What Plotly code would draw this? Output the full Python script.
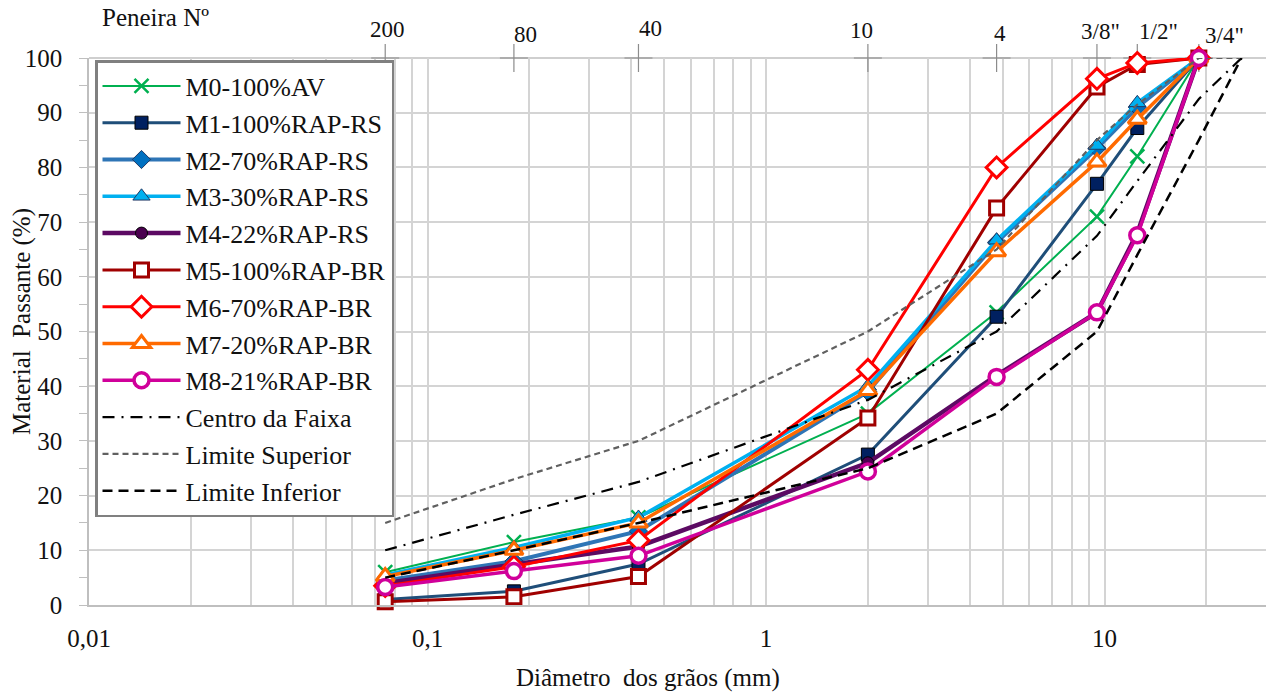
import math
import plotly.graph_objects as go

# ---------------- data ----------------
sieve_mm = [0.075, 0.18, 0.42, 2.0, 4.8, 9.5, 12.5, 19.0]
sieve_labels = ["200", "80", "40", "10", "4", '3/8"', '1/2"', '3/4"']
band_mm = [0.075, 0.18, 0.42, 2.0, 4.8, 9.5, 12.5, 19.0, 25.4]

m0 = [6.0, 11.5, 16.0, 35.0, 53.5, 71.0, 82.0, 100]
m1 = [1.0, 2.5, 7.5, 27.5, 52.7, 77.0, 87.2, 100]
m2 = [4.5, 8.0, 13.5, 39.0, 66.3, 83.5, 91.0, 100]
m3 = [5.5, 10.5, 16.0, 40.0, 66.7, 84.0, 91.8, 100]
m4 = [4.0, 7.5, 10.7, 26.0, 42.0, 53.5, 68.0, 100]
m5 = [0.6, 1.5, 5.2, 34.2, 72.6, 94.7, 98.8, 100]
m6 = [3.5, 7.0, 11.8, 43.0, 80.0, 96.2, 99.1, 100]
m7 = [5.2, 10.0, 15.0, 39.2, 64.6, 81.0, 88.8, 100]
m8 = [3.3, 6.2, 9.0, 24.4, 41.7, 53.5, 67.6, 100]

centro = [10, 16.5, 22.5, 37.5, 50, 67.5, 77.5, 92.5, 100]
superior = [15, 23, 30, 50, 65, 85, 91.5, 100, 100]
inferior = [5, 10, 15, 25, 35, 50, 64, 85, 100]

series_names = ["M0-100%AV", "M1-100%RAP-RS", "M2-70%RAP-RS", "M3-30%RAP-RS",
                "M4-22%RAP-RS", "M5-100%RAP-BR", "M6-70%RAP-BR", "M7-20%RAP-BR",
                "M8-21%RAP-BR"]
series_values = [m0, m1, m2, m3, m4, m5, m6, m7, m8]

x_ticks = [0.01, 0.1, 1, 10]
x_ticktext = ["0,01", "0,1", "1", "10"]

# ---------------- styles ----------------
styles = [
    dict(line=dict(color="#00B050", width=2),
         marker=dict(symbol="x-thin", size=14, line=dict(color="#00B050", width=2.5))),
    dict(line=dict(color="#1F4E79", width=3),
         marker=dict(symbol="square", size=13, color="#002060", line=dict(color="#000000", width=1))),
    dict(line=dict(color="#2E75B6", width=4),
         marker=dict(symbol="diamond", size=14, color="#0070C0", line=dict(color="#1F3864", width=1))),
    dict(line=dict(color="#00B0F0", width=3.5),
         marker=dict(symbol="triangle-up", size=15, color="#00B0F0", line=dict(color="#1F3864", width=1))),
    dict(line=dict(color="#5C0A63", width=4.5),
         marker=dict(symbol="circle", size=12, color="#4B0050", line=dict(color="#000000", width=1))),
    dict(line=dict(color="#A00000", width=3),
         marker=dict(symbol="square", size=14, color="white", line=dict(color="#A00000", width=3))),
    dict(line=dict(color="#FF0000", width=3),
         marker=dict(symbol="diamond", size=16, color="white", line=dict(color="#FF0000", width=3))),
    dict(line=dict(color="#FF6A00", width=3.5),
         marker=dict(symbol="triangle-up", size=16, color="white", line=dict(color="#FF6A00", width=3))),
    dict(line=dict(color="#D0009A", width=3.5),
         marker=dict(symbol="circle", size=15, color="white", line=dict(color="#D0009A", width=3.5))),
]

FONT = "Liberation Serif, Times New Roman, serif"
TXT = "#111111"

fig = go.Figure()

# sieve "+" marks on top edge
fig.add_trace(go.Scatter(
    x=sieve_mm, y=[100] * len(sieve_mm), mode="markers",
    marker=dict(symbol="cross-thin", size=20, line=dict(color="#8c8c8c", width=1.2)),
    cliponaxis=False, showlegend=False, hoverinfo="skip"))

for i, (name, vals) in enumerate(zip(series_names, series_values)):
    st = styles[i]
    fig.add_trace(go.Scatter(
        x=sieve_mm, y=vals, name=name, mode="lines+markers",
        line=st["line"], marker=st["marker"], legendgroup=f"g{i}",
        cliponaxis=False))

fig.add_trace(go.Scatter(
    x=band_mm, y=centro, name="Centro da Faixa", mode="lines",
    line=dict(color="#000000", width=2.2, dash="12px,7px,2px,7px"),
    legendgroup="c"))
fig.add_trace(go.Scatter(
    x=band_mm, y=superior, name="Limite Superior", mode="lines",
    line=dict(color="#606060", width=2.2, dash="6px,4px"),
    legendgroup="s"))
fig.add_trace(go.Scatter(
    x=band_mm, y=inferior, name="Limite Inferior", mode="lines",
    line=dict(color="#000000", width=2.5, dash="10px,6px"),
    legendgroup="i"))

# plot geometry
L, T, W, H = 89, 58, 1266, 693
B = H - 605
plot_h = H - T - B

annotations = []
label_dx = [2, 12, 12, -6, 3, 4, 21, 26]
label_y = [29, 35, 28, 30, 33, 32, 32, 36]
for mm, lab, dx, yy in zip(sieve_mm, sieve_labels, label_dx, label_y):
    annotations.append(dict(
        x=math.log10(mm), y=1 + (T - yy) / plot_h, xref="x", yref="paper",
        text=lab, showarrow=False, xshift=dx, yanchor="middle", xanchor="center",
        font=dict(family=FONT, size=23, color=TXT)))
annotations.append(dict(
    x=(155 - L) / (W - L), y=1 + (T - 18) / plot_h, xref="paper", yref="paper",
    text="Peneira Nº", showarrow=False, xanchor="center", yanchor="middle",
    font=dict(family=FONT, size=25, color=TXT)))
annotations.append(dict(
    x=(648 - L) / (W - L), y=-(678 - 605) / plot_h, xref="paper", yref="paper",
    text="Diâmetro  dos grãos (mm)", showarrow=False, xanchor="center", yanchor="middle",
    font=dict(family=FONT, size=25, color=TXT)))
annotations.append(dict(
    x=-(L - 22) / (W - L), y=(605 - 322) / plot_h, xref="paper", yref="paper",
    text="Material  Passante (%)", showarrow=False, textangle=-90,
    xanchor="center", yanchor="middle",
    font=dict(family=FONT, size=25, color=TXT)))

minor_vals = []
for dec in [0.01, 0.1, 1, 10]:
    for k in range(2, 10):
        v = dec * k
        if v <= 30:
            minor_vals.append(v)

fig.update_layout(
    width=W, height=H,
    margin=dict(l=L, r=0, t=T, b=B, pad=0),
    paper_bgcolor="white", plot_bgcolor="white",
    font=dict(family=FONT, size=22, color=TXT),
    showlegend=True,
    legend=dict(
        x=(95 - L) / (W - L), y=1 - (60 - T) / plot_h, xanchor="left", yanchor="top",
        bgcolor="white", bordercolor="#808080", borderwidth=2.5,
        font=dict(family=FONT, size=26, color=TXT),
        tracegroupgap=0, traceorder="grouped", itemwidth=78,
        entrywidth=305, entrywidthmode="pixels"),
    xaxis=dict(
        type="log", range=[-2, math.log10(30)],
        tickvals=x_ticks, ticktext=x_ticktext,
        showgrid=True, gridcolor="#D4D4D4", gridwidth=1.5,
        minor=dict(tickvals=minor_vals, showgrid=True, gridcolor="#D4D4D4", gridwidth=1.5),
        showline=True, linecolor="#BFBFBF", linewidth=1.5, mirror=False,
        ticks="", ticklabelstandoff=10, zeroline=False,
        tickfont=dict(family=FONT, size=25, color=TXT)),
    yaxis=dict(
        range=[0, 100], tickvals=list(range(0, 101, 10)),
        showgrid=True, gridcolor="#D4D4D4", gridwidth=1.5,
        showline=True, linecolor="#BFBFBF", linewidth=1.5,
        ticks="outside", ticklen=8, tickcolor="#BFBFBF", tickwidth=1.2,
        minor=dict(dtick=5, ticks="outside", ticklen=8, tickcolor="#BFBFBF", showgrid=False),
        ticklabelstandoff=12, zeroline=False,
        tickfont=dict(family=FONT, size=25, color=TXT)),
    annotations=annotations,
    shapes=[dict(type="line", xref="paper", yref="paper", x0=0, x1=1, y0=1, y1=1,
                 line=dict(color="#BFBFBF", width=1.5), layer="below")],
)

fig.write_html("out.html")
